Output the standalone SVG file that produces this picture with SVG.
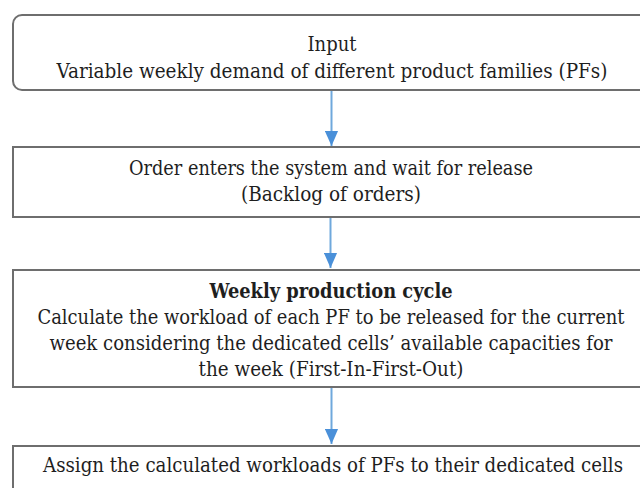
<svg xmlns="http://www.w3.org/2000/svg" width="640" height="488" viewBox="0 0 640 488">
  <defs>
    <marker id="arrowhead" viewBox="0 0 16 14" refX="16" refY="7" markerWidth="15" markerHeight="14" markerUnits="userSpaceOnUse" orient="auto">
      <path d="M0,0 L16,7 L0,14 Z" fill="#4a90d9"/>
    </marker>
    <style>
      .box { fill: #ffffff; stroke: #6e6e6e; stroke-width: 2; }
      .label { font-family: "DejaVu Serif Condensed", "DejaVu Serif", serif; font-stretch: condensed; font-size: 20px; fill: #1e1e1e; text-anchor: middle; }
      .bold { font-weight: bold; }
      .edge { stroke: #6fa8dc; stroke-width: 2; fill: none; marker-end: url(#arrowhead); }
    </style>
  </defs>
  <rect width="640" height="488" fill="#ffffff"/>

  <!-- process steps -->
  <g id="node-input">
    <rect class="box" x="13" y="15" width="640" height="75" rx="9" ry="9"/>
    <text class="label" x="332" y="51" textLength="49" lengthAdjust="spacingAndGlyphs">Input</text>
    <text class="label" x="332" y="78" textLength="551" lengthAdjust="spacingAndGlyphs">Variable weekly demand of different product families (PFs)</text>
  </g>

  <g id="node-backlog">
    <rect class="box" x="13" y="147" width="640" height="70"/>
    <text class="label" x="331" y="175" textLength="404" lengthAdjust="spacingAndGlyphs">Order enters the system and wait for release</text>
    <text class="label" x="331" y="201" textLength="180" lengthAdjust="spacingAndGlyphs">(Backlog of orders)</text>
  </g>

  <g id="node-weekly-cycle">
    <rect class="box" x="13" y="270" width="640" height="117"/>
    <text class="label bold" x="331" y="298" textLength="243" lengthAdjust="spacingAndGlyphs">Weekly production cycle</text>
    <text class="label" x="331" y="324" textLength="587" lengthAdjust="spacingAndGlyphs">Calculate the workload of each PF to be released for the current</text>
    <text class="label" x="331" y="350" textLength="563" lengthAdjust="spacingAndGlyphs">week considering the dedicated cells’ available capacities for</text>
    <text class="label" x="331" y="376" textLength="265" lengthAdjust="spacingAndGlyphs">the week (First-In-First-Out)</text>
  </g>

  <g id="node-assign">
    <rect class="box" x="13" y="446" width="640" height="60"/>
    <text class="label" x="333" y="472" textLength="580" lengthAdjust="spacingAndGlyphs">Assign the calculated workloads of PFs to their dedicated cells</text>
  </g>

  <!-- flow arrows -->
  <g id="connectors">
    <line class="edge" x1="331.5" y1="91" x2="331.5" y2="146"/>
    <line class="edge" x1="330.5" y1="218" x2="330.5" y2="268"/>
    <line class="edge" x1="331.5" y1="388" x2="331.5" y2="444"/>
  </g>
</svg>
